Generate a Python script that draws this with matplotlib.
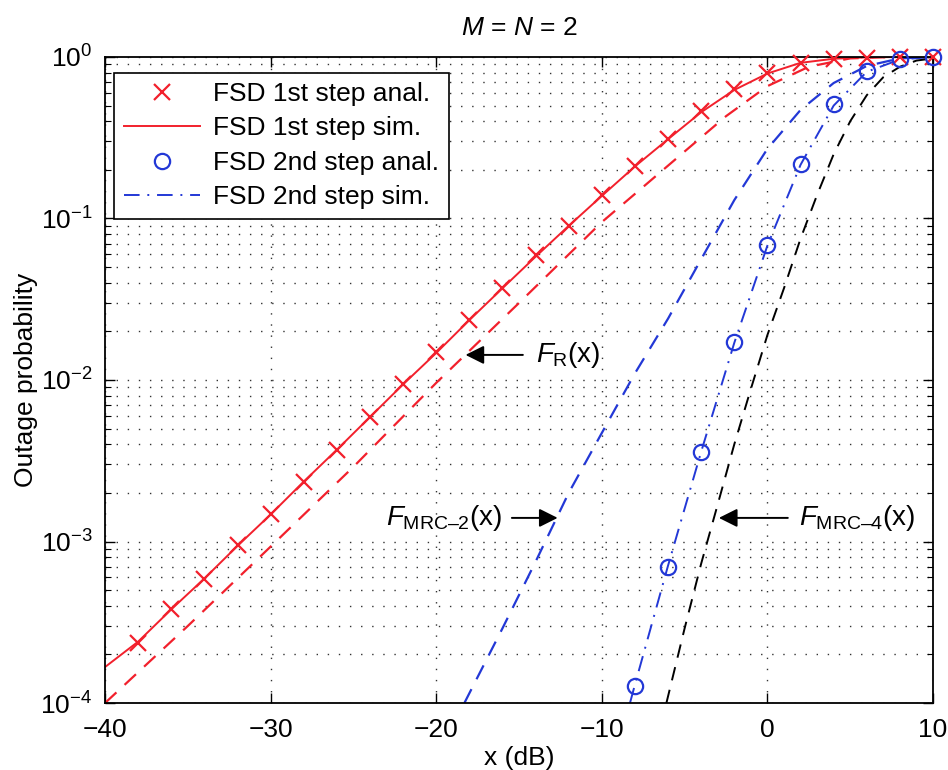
import numpy as np
import matplotlib
matplotlib.use("Agg")
import matplotlib.pyplot as plt

plt.rcParams['font.family'] = ['Liberation Sans', 'DejaVu Sans']
plt.rcParams['mathtext.fontset'] = 'custom'
plt.rcParams['mathtext.rm'] = 'Liberation Sans'
plt.rcParams['mathtext.it'] = 'Liberation Sans:italic'

RED = '#f2202c'
BLUE = '#2338d6'

# FSD 1st step, analysis (markers)
x_fsd1_anal = [-38, -36, -34, -32, -30, -28, -26, -24, -22, -20, -18, -16, -14,
               -12, -10, -8, -6, -4, -2, 0, 2, 4, 6, 8, 10]
p_fsd1_anal = [2.35e-4, 3.8e-4, 5.9e-4, 9.5e-4, 1.48e-3, 2.35e-3, 3.7e-3, 5.9e-3,
               9.5e-3, 1.48e-2, 2.35e-2, 3.7e-2, 5.9e-2, 0.09, 0.14, 0.21, 0.31,
               0.46, 0.63, 0.80, 0.92, 0.975, 0.99, 1.0, 1.0]

# FSD 1st step, simulation
x_fsd1_sim = [-40, -38, -36, -34, -32, -30, -28, -26, -24, -22, -20, -18, -16, -14,
              -12, -10, -8, -6, -4, -2, 0, 2, 4, 6, 8, 10]
p_fsd1_sim = [1.67e-4, 2.4e-4, 3.8e-4, 5.9e-4, 9.4e-4, 1.47e-3, 2.35e-3, 3.7e-3,
              5.9e-3, 9.4e-3, 1.47e-2, 2.35e-2, 3.7e-2, 5.8e-2, 0.09, 0.138, 0.21,
              0.31, 0.455, 0.625, 0.79, 0.92, 0.975, 0.995, 1.0, 1.0]

# F_R(x)
x_fr = [-40, -35, -30, -25, -20, -15, -10, -7.5, -5, -2.5, 0, 2.5, 5, 7.5, 10]
p_fr = [1.0e-4, 3.0e-4, 9.3e-4, 2.9e-3, 9.6e-3, 3.0e-2, 9.5e-2, 0.157, 0.26,
        0.43, 0.66, 0.87, 0.98, 1.0, 1.0]

# FSD 2nd step, analysis (markers)
x_fsd2_anal = [-8, -6, -4, -2, 0, 2, 4, 6, 8, 10]
p_fsd2_anal = [1.27e-4, 7.0e-4, 3.6e-3, 1.72e-2, 6.9e-2, 0.218, 0.51, 0.82, 0.97, 1.0]

# FSD 2nd step, simulation
x_fsd2_sim = [-8.3, -8, -6, -4, -2, 0, 2, 4, 6, 8, 10]
p_fsd2_sim = [1.0e-4, 1.3e-4, 7.1e-4, 3.6e-3, 1.7e-2, 6.8e-2, 0.215, 0.5, 0.81, 0.965, 1.0]

# F_MRC-2(x)
x_mrc2 = [-18.3, -16, -14, -12, -10, -8, -6, -4, -2, 0, 2, 4, 6, 8, 10]
p_mrc2 = [1.0e-4, 2.9e-4, 7.5e-4, 2.0e-3, 4.7e-3, 1.1e-2, 2.4e-2, 5.6e-2, 0.13,
          0.27, 0.47, 0.69, 0.88, 0.98, 1.0]

# F_MRC-4(x)
x_mrc4 = [-6.1, -5, -4, -3, -2, -1, 0, 1, 2, 3, 4, 5, 6, 7, 8, 9, 10]
p_mrc4 = [1.0e-4, 2.9e-4, 7.3e-4, 1.7e-3, 4.0e-3, 8.8e-3, 1.9e-2, 3.7e-2, 7.5e-2,
          0.14, 0.25, 0.40, 0.58, 0.75, 0.87, 0.95, 0.98]

fig = plt.figure(figsize=(9.48, 7.70), dpi=100)
ax = fig.add_axes([0.1108, 0.087, 0.8734, 0.839])

ax.plot(x_fsd1_anal, p_fsd1_anal, 'x', color=RED, ms=12, mew=1.6, clip_on=False,
        label='FSD 1st step anal.', zorder=4)
ax.plot(x_fsd1_sim, p_fsd1_sim, '-', color=RED, lw=1.4, label='FSD 1st step sim.')
ax.plot(x_fsd2_anal, p_fsd2_anal, 'o', color=BLUE, ms=11, mew=1.6, mfc='none',
        clip_on=False, label='FSD 2nd step anal.', zorder=4)
ax.plot(x_fsd2_sim, p_fsd2_sim, color=BLUE, lw=1.4, dashes=(8, 4, 1, 4),
        label='FSD 2nd step sim.')
ax.plot(x_fr, p_fr, color=RED, lw=1.6, dashes=(7, 5))
ax.plot(x_mrc2, p_mrc2, color=BLUE, lw=1.6, dashes=(7, 5))
ax.plot(x_mrc4, p_mrc4, color='k', lw=1.4, dashes=(7, 5))

ax.set_yscale('log')
ax.set_xlim(-40, 10)
ax.set_ylim(1e-4, 1)
ax.set_xticks([-40, -30, -20, -10, 0, 10])

ax.grid(True, which='major', linestyle=(0, (1, 7)), color='#333333', lw=1.0)
ax.grid(True, which='minor', axis='y', linestyle=(0, (1, 7)), color='#333333', lw=1.0)
ax.minorticks_on()
ax.xaxis.set_minor_locator(matplotlib.ticker.NullLocator())
ax.tick_params(which='both', direction='in', top=True, right=True, labelsize=19)
ax.tick_params(which='major', length=7, width=1.0)
ax.tick_params(which='minor', length=4, width=0.8)
ax.tick_params(axis='x', which='major', pad=11)
ax.tick_params(axis='y', which='major', pad=9)
for s in ax.spines.values():
    s.set_linewidth(1.3)

ax.set_xlabel('x (dB)', fontsize=19, labelpad=3)
ax.set_ylabel('Outage probability', fontsize=19, labelpad=2)
ax.set_title('$M$ = $N$ = 2', fontsize=19, pad=16)

arrow = dict(arrowstyle='-|>', color='k', lw=1.4, mutation_scale=28)
ax.annotate('', xy=(-18.4, 0.0143), xytext=(-14.6, 0.0143), arrowprops=arrow)
ax.text(-14.0, 0.0143, r'$F_{\mathrm{R}}(\mathrm{x})$', fontsize=20, va='center', ha='left')
ax.annotate('', xy=(-12.5, 1.4e-3), xytext=(-15.6, 1.4e-3), arrowprops=arrow)
ax.text(-16.0, 1.4e-3, r'$F_{\mathrm{MRC–2}}(\mathrm{x})$', fontsize=20, va='center', ha='right')
ax.annotate('', xy=(-3.1, 1.4e-3), xytext=(1.4, 1.4e-3), arrowprops=arrow)
ax.text(1.9, 1.4e-3, r'$F_{\mathrm{MRC–4}}(\mathrm{x})$', fontsize=20, va='center', ha='left')

leg = ax.legend(loc='upper left', bbox_to_anchor=(0.005, 0.984), fontsize=19,
                frameon=True, fancybox=False, edgecolor='k', framealpha=1,
                handlelength=2.9, handletextpad=0.5, borderpad=0.35, labelspacing=0.4,
                borderaxespad=0.2)
leg.get_frame().set_linewidth(1.2)

fig.savefig('out.png', dpi=100)
